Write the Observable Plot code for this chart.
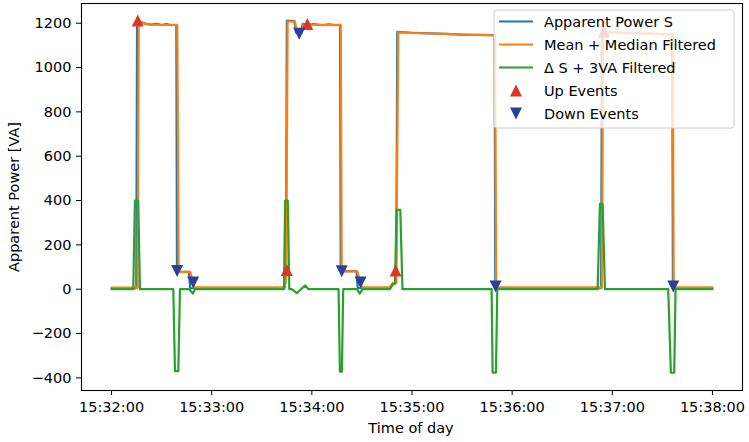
<!DOCTYPE html>
<html>
<head>
<meta charset="utf-8">
<script src="https://cdn.jsdelivr.net/npm/d3@7"></script>
<script src="https://cdn.jsdelivr.net/npm/@observablehq/plot@0.6"></script>
<style>
  html, body { margin: 0; padding: 0; background: #fff; }
  #wrap { position: relative; width: 749px; height: 442px; font-family: "DejaVu Sans", sans-serif; color: #000; }
  .lab { position: absolute; font-size: 14.5px; white-space: nowrap; }
</style>
</head>
<body>
<div id="wrap"></div>
<script>
// ---- Data (seconds after 15:32:00, value in VA) ----
const apparentPower = [
  [0,4],[14.8,4],[15.3,1212],[17,1208],[19,1200],[21,1196],[24,1194],[27,1197],[30,1192],[33,1196],[36,1191],[38.8,1193],[39.2,78],[46.4,78],[47.1,5],
  [60,4],[80,5],[103.6,5],[104.5,50],[105,1212],[109.5,1210],[110.5,1158],[113.5,1156],[114.5,1197],[118,1193],[121,1196],[126,1191],[130,1195],[134,1192],[136.9,1193],[137.3,82],[146.8,82],[147.5,5],
  [166.5,5],[168.3,25],[170.5,28],[171.2,1161],[180,1157],[190,1154],[200,1152],[210,1149],[220,1148],[229.5,1146],[229.9,5],
  [260,4],[293.3,5],[293.8,1162],[300,1159],[310,1156],[320,1153],[330,1151],[335.9,1151],[336.3,5],[360,5]
];
const filtered = [
  [0,7],[15.6,7],[16.3,1207],[18,1205],[20,1199],[23,1194],[39.4,1192],[40.2,78],[47.2,78],[49.5,8],
  [103.5,8],[104.6,45],[105.5,1209],[110,1206],[111,1155],[113.8,1155],[115,1195],[125,1193],[137.3,1191],[137.9,80],[147.3,80],[150,8],
  [166.5,8],[168.5,27],[170.5,30],[171.8,1159],[180,1156],[200,1152],[215,1148],[229.8,1145],[230.4,8],
  [293.8,8],[294.5,1160],[300,1158],[320,1153],[336.2,1150],[336.8,8],[360,8]
];
const deltaS = [
  [0,0],[13,0],[14,400],[16,400],[17,0],[37,0],[38,-370],[40,-370],[41,0],[46.6,0],[48.7,-20],[50,0],
  [103.3,0],[104,400],[105.6,400],[106.5,0],[108,0],[111,-18],[113.5,0],[116,17],[118,0],
  [136,0],[136.8,-372],[138,-372],[138.8,0],[147,0],[148.7,-20],[150.5,0],
  [166.8,0],[168.5,22],[169.8,25],[170.8,358],[173,358],[174.3,0],
  [227.7,0],[228.3,-376],[230.3,-376],[231.1,0],
  [291.2,0],[292.6,385],[294.2,385],[295.6,0],
  [333.5,0],[335.1,-377],[337.1,-377],[337.9,0],[360,0]
];
const upEvents = [[15.7,1212],[105.0,87],[117.3,1197],[170.2,84],[295.0,1162]];
const downEvents = [[39.3,82],[48.9,30],[112.4,1152],[137.9,81],[149.2,30],[230.1,12],[336.5,12]];
const yTicks = [-400,-200,0,200,400,600,800,1000,1200];
const xTickSeconds = [0,60,120,180,240,300,360];
const seriesNames = ["Apparent Power S","Mean + Median Filtered","\u0394 S + 3VA Filtered","Up Events","Down Events"];
const colors = ["#1f77b4","#ff7f0e","#2ca02c","#e0342a","#2b3f9c"];

const T0 = Date.UTC(2021,0,1,15,32,0);
const sec = s => new Date(T0 + s*1000);

const triUp = { draw(ctx, size) { const r = Math.sqrt(size/Math.PI); ctx.moveTo(0,-r); ctx.lineTo(r,r); ctx.lineTo(-r,r); ctx.closePath(); } };
const triDown = { draw(ctx, size) { const r = Math.sqrt(size/Math.PI); ctx.moveTo(0,r); ctx.lineTo(r,-r); ctx.lineTo(-r,-r); ctx.closePath(); } };

const fmtY = d => d < 0 ? "\u2212" + (-d) : String(d);
const X = d => sec(d[0]), Y = d => d[1];

const chart = Plot.plot({
  width: 749, height: 442,
  marginLeft: 81, marginRight: 7, marginTop: 3, marginBottom: 52,
  style: { fontFamily: "DejaVu Sans", fontSize: "14.5px", background: "white", color: "#000" },
  x: { type: "utc", domain: [sec(-18), sec(378)] },
  y: { domain: [-457, 1289] },
  marks: [
    Plot.line(apparentPower, { x: X, y: Y, stroke: colors[0], strokeWidth: 2.2 }),
    Plot.line(filtered, { x: X, y: Y, stroke: colors[1], strokeWidth: 2.2 }),
    Plot.line(deltaS, { x: X, y: Y, stroke: colors[2], strokeWidth: 2.2 }),
    Plot.dot(upEvents, { x: X, y: Y, r: 6, symbol: triUp, fill: colors[3], stroke: "none" }),
    Plot.dot(downEvents, { x: X, y: Y, r: 6, symbol: triDown, fill: colors[4], stroke: "none" }),
    Plot.axisX({ ticks: xTickSeconds.map(sec), tickFormat: d3.utcFormat("%H:%M:%S"), tickSize: 5, tickPadding: 6, label: null }),
    Plot.axisY({ ticks: yTicks, tickFormat: fmtY, tickSize: 5, tickPadding: 5, label: null }),
    Plot.frame({ stroke: "#000", strokeWidth: 1.1 })
  ]
});

const wrap = document.getElementById("wrap");
wrap.appendChild(chart);

// axis labels
const yl = document.createElement("div");
yl.className = "lab"; yl.textContent = "Apparent Power [VA]";
yl.style.left = "14px"; yl.style.top = "197px"; yl.style.transform = "translate(-50%,-50%) rotate(-90deg)";
wrap.appendChild(yl);
const xl = document.createElement("div");
xl.className = "lab"; xl.textContent = "Time of day";
xl.style.left = "411px"; xl.style.top = "428px"; xl.style.transform = "translate(-50%,-50%)";
wrap.appendChild(xl);

// legend
const ns = "http://www.w3.org/2000/svg";
const lg = document.createElementNS(ns, "svg");
lg.setAttribute("width", 242); lg.setAttribute("height", 120);
lg.style.position = "absolute"; lg.style.left = "493px"; lg.style.top = "9px";
lg.style.fontFamily = "DejaVu Sans"; lg.style.fontSize = "14.5px";
const bg = document.createElementNS(ns, "rect");
bg.setAttribute("x", 1); bg.setAttribute("y", 1); bg.setAttribute("width", 240); bg.setAttribute("height", 118);
bg.setAttribute("rx", 3); bg.setAttribute("fill", "white"); bg.setAttribute("fill-opacity", 0.8);
bg.setAttribute("stroke", "#cccccc"); bg.setAttribute("stroke-width", 1);
lg.appendChild(bg);
seriesNames.forEach((name, i) => {
  const cy = 12.5 + i * 23;
  if (i < 3) {
    const l = document.createElementNS(ns, "line");
    l.setAttribute("x1", 6); l.setAttribute("x2", 40); l.setAttribute("y1", cy); l.setAttribute("y2", cy);
    l.setAttribute("stroke", colors[i]); l.setAttribute("stroke-width", 2.2);
    lg.appendChild(l);
  } else {
    const p = document.createElementNS(ns, "path");
    const cx = 23, r = 6;
    const d = i === 3
      ? `M${cx},${cy-r}L${cx+r},${cy+r}L${cx-r},${cy+r}Z`
      : `M${cx},${cy+r}L${cx+r},${cy-r}L${cx-r},${cy-r}Z`;
    p.setAttribute("d", d); p.setAttribute("fill", colors[i]);
    lg.appendChild(p);
  }
  const t = document.createElementNS(ns, "text");
  t.setAttribute("x", 51); t.setAttribute("y", cy); t.setAttribute("dy", "0.36em");
  t.setAttribute("fill", "#000");
  t.textContent = name;
  lg.appendChild(t);
});
wrap.appendChild(lg);
</script>
</body>
</html>
